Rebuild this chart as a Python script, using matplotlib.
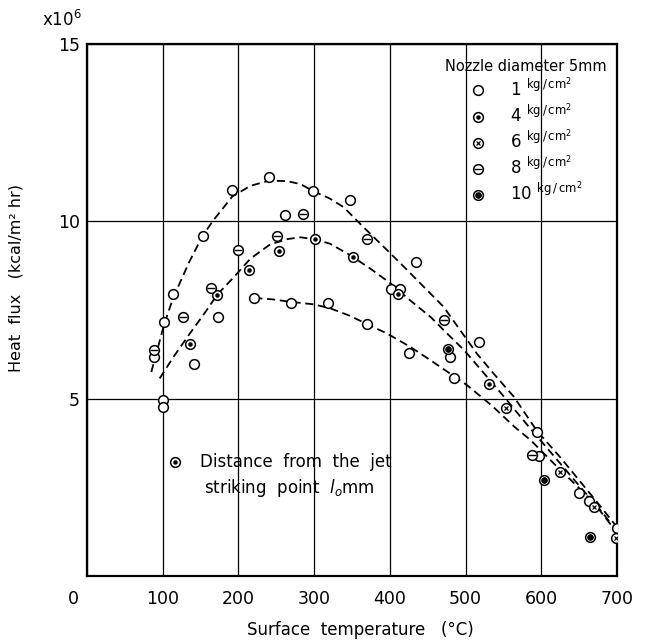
import matplotlib
matplotlib.use("Agg")
import matplotlib.pyplot as plt
import matplotlib.transforms as mtransforms
from matplotlib.lines import Line2D
from matplotlib.legend_handler import HandlerTuple

# measured points, grouped by jet pressure (kg/cm2)
t_1 = [88, 100, 101, 102, 114, 141.5, 153, 173, 192, 221, 241, 261, 269, 299, 319,
       348, 370, 402, 414, 426, 435, 480, 485, 518, 594, 597, 650, 663, 700]
q_1 = [6.18, 4.96, 4.77, 7.16, 7.94, 5.99, 9.6, 7.30, 10.87, 7.84, 11.25, 10.19, 7.70,
       10.85, 7.70, 10.61, 7.10, 8.10, 8.10, 6.30, 8.84, 6.18, 5.59, 6.60, 4.07, 3.38,
       2.33, 2.12, 1.34]
t_4 = [136, 172, 214, 254, 301, 351, 411, 531]
q_4 = [6.54, 7.93, 8.62, 9.16, 9.49, 9.0, 7.96, 5.40]
t_6 = [554, 625, 670, 699]
q_6 = [4.75, 2.94, 1.94, 1.06]
t_8 = [88, 127, 164, 199, 251, 285, 370, 471, 588]
q_8 = [6.37, 7.30, 8.12, 9.18, 9.6, 10.22, 9.51, 7.23, 3.41]
t_10 = [477, 604, 665]
q_10 = [6.41, 2.72, 1.11]

# hand-drawn trend curves
hi_t = [85, 102, 114, 135, 153, 167, 192, 216, 241, 265, 282, 299, 320, 339, 365, 392,
        419, 445, 471, 493, 515, 537, 564, 594, 625, 650, 675, 700]
hi_q = [5.75, 7.1, 7.85, 8.85, 9.6, 10.03, 10.7, 11.0, 11.15, 11.13, 11.05, 10.85, 10.65,
        10.40, 9.84, 9.28, 8.71, 8.15, 7.59, 6.93, 6.27, 5.71, 5.05, 4.1, 3.35, 2.7, 2.05, 1.38]
mid_t = [96, 115, 136, 155, 172, 195, 216, 242, 265, 282, 301, 321, 348, 374, 401, 427,
         454, 476, 498, 521, 551, 580, 610, 640, 670, 694]
mid_q = [5.57, 6.2, 6.84, 7.4, 7.93, 8.45, 8.95, 9.35, 9.5, 9.55, 9.49, 9.37, 9.04, 8.67,
         8.25, 7.77, 7.30, 6.83, 6.37, 5.80, 5.05, 4.3, 3.55, 2.8, 2.05, 1.39]
lo_t = [221, 245, 269, 299, 321, 348, 370, 396, 427, 454, 476, 502, 535, 565, 586, 620,
        648, 675, 692]
lo_q = [7.84, 7.80, 7.73, 7.66, 7.55, 7.33, 7.10, 6.84, 6.46, 6.08, 5.76, 5.38, 4.8, 4.2,
        3.83, 3.1, 2.52, 1.95, 1.48]

pressures = ["1", "4", "6", "8", "10"]
xticks = [0, 100, 200, 300, 400, 500, 600, 700]
yticks = [5, 10, 15]

fig = plt.figure(figsize=(6.49, 6.41), dpi=100)
ax = fig.add_axes([0.134, 0.1014, 0.8166, 0.830])

for t, q in [(hi_t, hi_q), (mid_t, mid_q), (lo_t, lo_q)]:
    ax.plot(t, q, color="black", lw=1.3, dashes=(4.5, 2.6), zorder=2)

ring = dict(marker="o", ms=7, mfc="white", mec="black", mew=1.1, ls="none", zorder=3)
inner = {
    "4": dict(marker=".", ms=4.5, color="black"),
    "6": dict(marker="x", ms=3.5, mew=0.9, color="black"),
    "8": dict(marker="_", ms=6, mew=1.0, color="black"),
    "10": dict(marker="o", ms=3.8, color="black"),
}
series = {"1": (t_1, q_1), "4": (t_4, q_4), "6": (t_6, q_6), "8": (t_8, q_8), "10": (t_10, q_10)}

handles = []
for p in pressures:
    t, q = series[p]
    ax.plot(t, q, **ring)
    h = [Line2D([], [], **ring)]
    if p in inner:
        ax.plot(t, q, ls="none", zorder=4, **inner[p])
        h.append(Line2D([], [], ls="none", **inner[p]))
    handles.append(tuple(h))

labels = [p + r" $^{\rm kg\,/\,cm^2}$" for p in pressures]
leg = ax.legend(handles, labels, handler_map={tuple: HandlerTuple(ndivide=1)},
                title="Nozzle diameter 5mm", title_fontsize=10.5, fontsize=12,
                loc="upper right", bbox_to_anchor=(1.0, 0.99), frameon=False,
                handlelength=1.0, handletextpad=1.4, labelspacing=0.15,
                borderaxespad=0.2)
leg._legend_box.align = "center"

# key for the distance note
ax.plot([116], [3.21], **ring)
ax.plot([116], [3.21], ls="none", zorder=4, **inner["4"])
ax.text(149, 3.21, "Distance  from  the  jet", fontsize=12, va="center", ha="left")
ax.text(154, 2.48, r"striking  point  $\it{l}_o$mm", fontsize=12, va="center", ha="left")

ax.set_xlim(0, 700)
ax.set_ylim(0, 15)
ax.set_xticks(xticks)
ax.set_xticklabels([str(v) for v in xticks])
ax.set_yticks(yticks)
ax.set_yticklabels([str(v) for v in yticks])
ax.tick_params(length=0, labelsize=12.5)
ax.tick_params(axis="x", pad=10)
ax.tick_params(axis="y", pad=5)
ax.grid(True, color="black", lw=0.9)
ax.set_axisbelow(True)
for s in ax.spines.values():
    s.set_linewidth(1.6)

# origin label sits a little left of the corner
lbl0 = ax.get_xticklabels()[0]
lbl0.set_transform(lbl0.get_transform() +
                   mtransforms.ScaledTranslation(-14 / 100, 0, fig.dpi_scale_trans))

ax.set_xlabel("Surface  temperature   (°C)", fontsize=12)
ax.xaxis.set_label_coords(0.515, -0.085)
ax.set_ylabel("Heat  flux   (kcal/m² hr)", fontsize=11.5)
ax.yaxis.set_label_coords(-0.12, 0.56)
ax.text(-0.047, 1.045, r"x10$^6$", transform=ax.transAxes, ha="center", va="center",
        fontsize=12)

fig.savefig("out.png", dpi=100)
